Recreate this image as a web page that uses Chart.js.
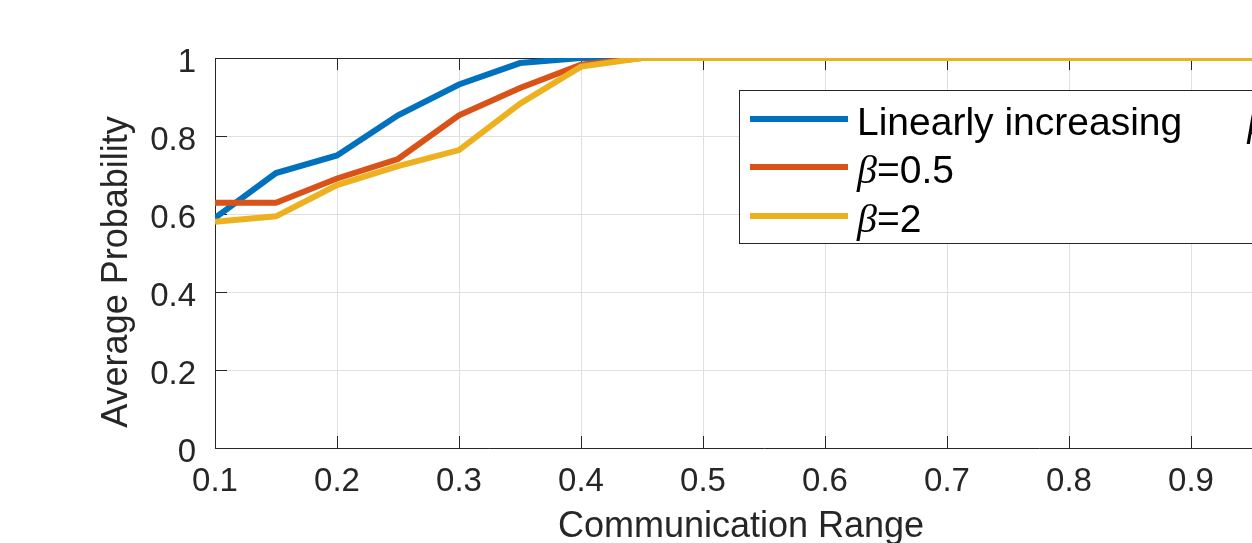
<!DOCTYPE html>
<html>
<head>
<meta charset="utf-8">
<script src="https://cdn.jsdelivr.net/npm/chart.js@4.4.0/dist/chart.umd.min.js"></script>
<style>
  html, body { margin: 0; padding: 0; overflow: hidden; background: #fff; }
  #wrap { width: 1340px; height: 543px; }
</style>
</head>
<body>
<div id="wrap"><canvas id="prob-chart" width="1340" height="543"></canvas></div>
<script>
// communication range (x) and the three probability curves
const commRange = [0.1, 0.15, 0.2, 0.25, 0.3, 0.35, 0.4, 0.45, 0.5, 0.55,
                   0.6, 0.65, 0.7, 0.75, 0.8, 0.85, 0.9, 0.95, 1.0];
const linearInc = [0.59, 0.705, 0.75, 0.853, 0.932, 0.987, 1, 1, 1, 1,
                   1, 1, 1, 1, 1, 1, 1, 1, 1];
const beta05 = [0.629, 0.629, 0.691, 0.741, 0.853, 0.923, 0.983, 1, 1, 1,
                1, 1, 1, 1, 1, 1, 1, 1, 1];
const beta2 = [0.58, 0.594, 0.674, 0.723, 0.764, 0.883, 0.978, 1, 1, 1,
               1, 1, 1, 1, 1, 1, 1, 1, 1];

const seriesLabels = ["Linearly increasing      β", "β=0.5", "β=2"];
const xTicks = [0.1, 0.2, 0.3, 0.4, 0.5, 0.6, 0.7, 0.8, 0.9, 1];
const yTicks = [0, 0.2, 0.4, 0.6, 0.8, 1];
const xTitle = "Communication Range";
const yTitle = "Average Probability";

const FONT = '"Liberation Sans", Arial, Helvetica, sans-serif';
const AXIS = "#262626";

function toPoints(ys) {
  return commRange.map((x, i) => ({ x: x, y: ys[i] }));
}

function fmt(v) {
  return String(Number(v.toFixed(2)));
}

// MATLAB style: ticks pointing inward, box on top
const boxTicks = {
  id: "boxTicks",
  beforeDatasetsDraw(chart) {
    const { ctx, chartArea: a, scales } = chart;
    const len = 12;
    ctx.save();
    ctx.strokeStyle = AXIS;
    ctx.lineWidth = 1;
    ctx.beginPath();
    scales.x.ticks.forEach((t) => {
      const px = Math.round(scales.x.getPixelForValue(t.value)) + 0.5;
      ctx.moveTo(px, a.bottom); ctx.lineTo(px, a.bottom - len);
      ctx.moveTo(px, a.top); ctx.lineTo(px, a.top + len);
    });
    scales.y.ticks.forEach((t) => {
      const py = Math.round(scales.y.getPixelForValue(t.value)) + 0.5;
      ctx.moveTo(a.left, py); ctx.lineTo(a.left + len, py);
      ctx.moveTo(a.right, py); ctx.lineTo(a.right - len, py);
    });
    ctx.moveTo(a.left, Math.round(a.top) + 0.5);
    ctx.lineTo(a.right, Math.round(a.top) + 0.5);
    ctx.moveTo(Math.round(a.right) + 0.5, a.top);
    ctx.lineTo(Math.round(a.right) + 0.5, a.bottom);
    ctx.stroke();
    ctx.restore();
  }
};

function drawMixed(ctx, text, x, y) {
  const parts = text.split("β");
  let cx = x;
  parts.forEach((p, i) => {
    if (i > 0) {
      ctx.font = 'italic 40px "Liberation Serif", "DejaVu Serif", serif';
      ctx.fillText("β", cx, y);
      cx += ctx.measureText("β").width;
    }
    ctx.font = "39px " + FONT;
    ctx.fillText(p, cx, y);
    cx += ctx.measureText(p).width;
  });
}

const titlesAndLegend = {
  id: "titlesAndLegend",
  afterDraw(chart) {
    const { ctx, chartArea: a } = chart;
    ctx.save();
    // axis titles
    ctx.fillStyle = AXIS;
    ctx.font = "36px " + FONT;
    ctx.textAlign = "center";
    ctx.textBaseline = "alphabetic";
    ctx.fillText(xTitle, (a.left + a.right) / 2 - 23, 537);
    ctx.save();
    ctx.translate(127, (a.top + a.bottom) / 2 + 19);
    ctx.rotate(-Math.PI / 2);
    ctx.fillText(yTitle, 0, 0);
    ctx.restore();

    // legend box
    const bx = 739.5, by = 90.5, bw = 600, bh = 153;
    ctx.fillStyle = "#fff";
    ctx.fillRect(bx, by, bw, bh);
    ctx.strokeStyle = AXIS;
    ctx.lineWidth = 1;
    ctx.strokeRect(bx, by, bw, bh);
    const rows = [119, 167, 216];
    ctx.textAlign = "left";
    chart.data.datasets.forEach((ds, i) => {
      const ry = rows[i];
      ctx.strokeStyle = ds.borderColor;
      ctx.lineWidth = 6;
      ctx.beginPath();
      ctx.moveTo(750, ry);
      ctx.lineTo(848, ry);
      ctx.stroke();
      ctx.fillStyle = "#000";
      drawMixed(ctx, ds.label, 857, ry + 16);
    });
    ctx.restore();
  }
};

new Chart(document.getElementById("prob-chart").getContext("2d"), {
  type: "line",
  data: {
    datasets: [
      { label: seriesLabels[0], data: toPoints(linearInc), borderColor: "#0072BD", order: 3 },
      { label: seriesLabels[1], data: toPoints(beta05), borderColor: "#D95319", order: 2 },
      { label: seriesLabels[2], data: toPoints(beta2), borderColor: "#EDB120", order: 1 }
    ]
  },
  options: {
    responsive: false,
    devicePixelRatio: 1,
    animation: false,
    layout: { padding: { top: 58, right: 27, left: 0, bottom: 0 } },
    elements: {
      point: { radius: 0 },
      line: { borderWidth: 6, tension: 0, fill: false, borderJoinStyle: "miter" }
    },
    plugins: { legend: { display: false }, tooltip: { enabled: false } },
    scales: {
      x: {
        type: "linear",
        min: 0.1,
        max: 1,
        afterBuildTicks: (s) => { s.ticks = xTicks.map((v) => ({ value: v })); },
        afterFit: (s) => { s.height = 95; },
        ticks: {
          padding: 14,
          color: AXIS,
          font: { family: FONT, size: 33 },
          maxRotation: 0,
          autoSkip: false,
          callback: (v) => fmt(v)
        },
        grid: { color: "#dfdfdf", lineWidth: 1, drawTicks: false },
        border: { color: AXIS, width: 1 }
      },
      y: {
        min: 0,
        max: 1,
        afterBuildTicks: (s) => { s.ticks = yTicks.map((v) => ({ value: v })); },
        afterFit: (s) => { s.width = 215; },
        ticks: {
          padding: 19,
          labelOffset: 5,
          color: AXIS,
          font: { family: FONT, size: 33 },
          callback: (v) => fmt(v)
        },
        grid: { color: "#dfdfdf", lineWidth: 1, drawTicks: false },
        border: { color: AXIS, width: 1 }
      }
    }
  },
  plugins: [boxTicks, titlesAndLegend]
});
</script>
</body>
</html>
